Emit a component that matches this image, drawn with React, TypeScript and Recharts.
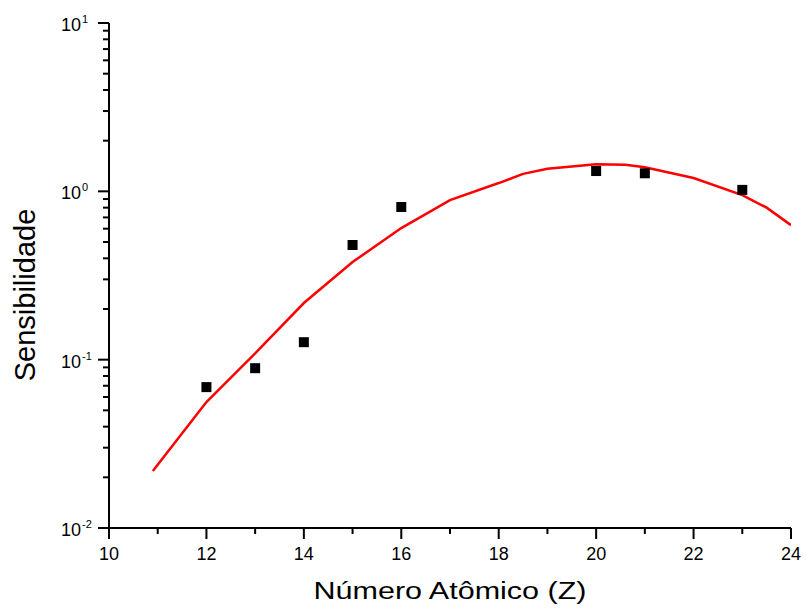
import { ComposedChart, Line, Scatter, XAxis, YAxis } from 'recharts';

// measured sensitivity per atomic number
const measuredZ = [12, 13, 14, 15, 16, 20, 21, 23];
const measuredS = [0.0687, 0.089, 0.127, 0.48, 0.807, 1.32, 1.28, 1.02];

// fitted curve
const fitZ = [10.9, 12, 13, 14, 15, 16, 17, 18, 18.5, 19, 20, 20.6, 21, 22, 23, 23.5, 24];
const fitS = [0.0218, 0.056, 0.109, 0.217, 0.38, 0.605, 0.887, 1.12, 1.27, 1.36, 1.45, 1.44, 1.39, 1.2, 0.95, 0.8, 0.63];

const xTicks = [10, 11, 12, 13, 14, 15, 16, 17, 18, 19, 20, 21, 22, 23, 24];
const yTicks = [
  0.01, 0.02, 0.03, 0.04, 0.05, 0.06, 0.07, 0.08, 0.09,
  0.1, 0.2, 0.3, 0.4, 0.5, 0.6, 0.7, 0.8, 0.9,
  1, 2, 3, 4, 5, 6, 7, 8, 9, 10,
];

const measured = measuredZ.map((x, i) => ({ x, y: measuredS[i] }));
const fit = fitZ.map((x, i) => ({ x, y: fitS[i] }));

const FONT = '"Liberation Sans", Arial, sans-serif';

const XTick = (props: any) => {
  const x = Number(props.x);
  const y = Number(props.y);
  const v = props.payload.value;
  const major = v % 2 === 0;
  return (
    <g>
      <rect x={x - 1} y={y} width={2} height={major ? 11 : 6} fill="#000" stroke="none" />
      {major && (
        <text x={x} y={y + 32} textAnchor="middle" fontSize={18} fontFamily={FONT} fill="#000" stroke="none">
          {v}
        </text>
      )}
    </g>
  );
};

const YTick = (props: any) => {
  const x = Number(props.x);
  const y = Number(props.y);
  const e = Math.log10(props.payload.value);
  const major = Math.abs(e - Math.round(e)) < 1e-6;
  return (
    <g>
      <rect x={x - (major ? 11 : 6)} y={y - 1} width={major ? 11 : 6} height={2} fill="#000" stroke="none" />
      {major && (
        <text x={x - 28} y={y + 8} textAnchor="end" fontSize={18} fontFamily={FONT} fill="#000" stroke="none">
          10
        </text>
      )}
      {major && (
        <text x={x - 27} y={y} textAnchor="start" fontSize={11} fontFamily={FONT} fill="#000" stroke="none">
          {Math.round(e)}
        </text>
      )}
    </g>
  );
};

const XTitle = ({ viewBox }: any) => (
  <text
    x={viewBox.x + viewBox.width / 2}
    y={599}
    textAnchor="middle"
    fontSize={23}
    fontFamily={FONT}
    fill="#000"
    textLength={273}
    lengthAdjust="spacingAndGlyphs"
  >
    Número Atômico (Z)
  </text>
);

const YTitle = () => (
  <text
    x={0}
    y={0}
    transform="translate(35, 295) rotate(-90)"
    textAnchor="middle"
    fontSize={29}
    fontFamily={FONT}
    fill="#000"
  >
    Sensibilidade
  </text>
);

const Square = ({ cx, cy }: any) => <rect x={cx - 5} y={cy - 5} width={10} height={10} fill="#000" />;

export default function App() {
  return (
    <div style={{ position: 'absolute', left: 0, top: 0, background: '#fff' }}>
      <ComposedChart width={806} height={609} margin={{ top: 23, right: 15, bottom: 0, left: 0 }}>
        <XAxis
          type="number"
          dataKey="x"
          domain={[10, 24]}
          ticks={xTicks}
          interval={0}
          tick={<XTick />}
          tickSize={0}
          tickMargin={0}
          tickLine={false}
          height={81}
          stroke="#000"
          strokeWidth={2}
          allowDataOverflow
          label={<XTitle />}
        />
        <YAxis
          type="number"
          dataKey="y"
          scale="log"
          domain={[0.01, 10]}
          ticks={yTicks}
          interval={0}
          tick={<YTick />}
          tickSize={0}
          tickMargin={0}
          tickLine={false}
          width={109}
          stroke="#000"
          strokeWidth={2}
          allowDataOverflow
          label={<YTitle />}
        />
        <Line
          data={fit}
          dataKey="y"
          type="linear"
          stroke="#ff0000"
          strokeWidth={2.5}
          dot={false}
          activeDot={false}
          isAnimationActive={false}
        />
        <Scatter data={measured} dataKey="y" shape={<Square />} isAnimationActive={false} />
      </ComposedChart>
    </div>
  );
}
